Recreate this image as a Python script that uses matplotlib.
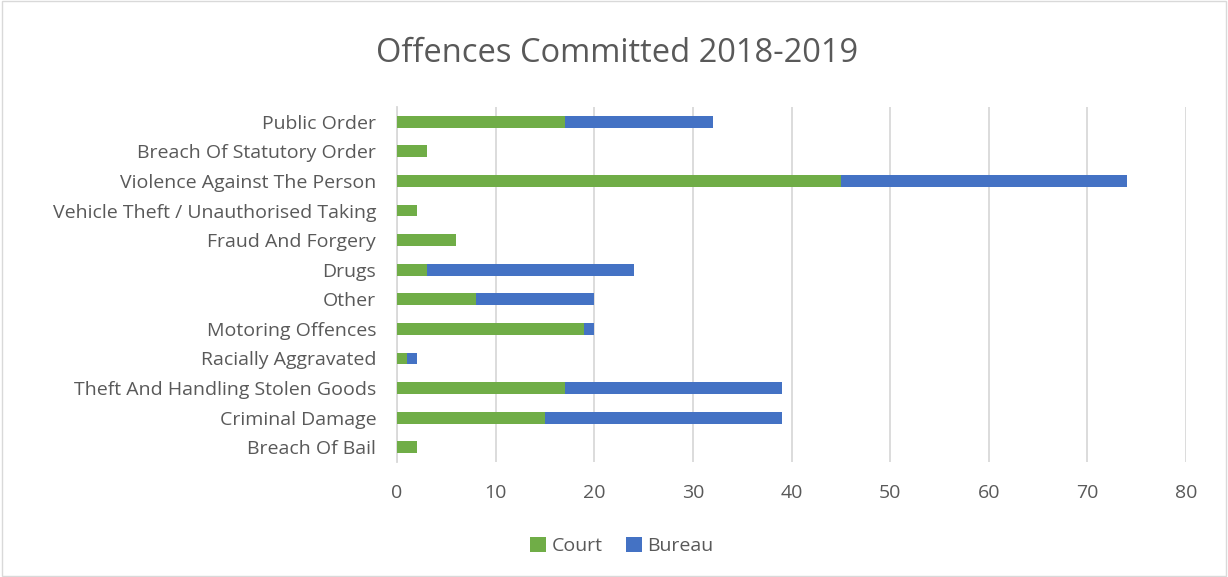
import numpy as np
import matplotlib.pyplot as plt

# offence categories, top to bottom as in the chart
categories = ["Public Order", "Breach Of Statutory Order", "Violence Against The Person",
              "Vehicle Theft / Unauthorised Taking", "Fraud And Forgery", "Drugs", "Other",
              "Motoring Offences", "Racially Aggravated", "Theft And Handling Stolen Goods",
              "Criminal Damage", "Breach Of Bail"]
court = [17, 3, 45, 2, 6, 3, 8, 19, 1, 17, 15, 2]
bureau = [15, 0, 29, 0, 0, 21, 12, 1, 1, 22, 24, 0]
xticks = [0, 10, 20, 30, 40, 50, 60, 70, 80]

GREEN = "#70AD47"
BLUE = "#4472C4"
GRID = "#D9D9D9"
TEXT = "#595959"

plt.rcParams['font.family'] = ['Open Sans', 'DejaVu Sans']

fig = plt.figure(figsize=(12.28, 5.77), dpi=100)
ax = fig.add_axes([397/1228, 1 - 462/577, (1186 - 397)/1228, (462 - 107)/577])

y = np.arange(len(categories))
ax.barh(y, court, height=0.4, color=GREEN, label="Court", zorder=3)
ax.barh(y, bureau, left=court, height=0.4, color=BLUE, label="Bureau", zorder=3)

ax.set_ylim(len(categories) - 0.5, -0.5)
ax.set_xlim(0, 80)
ax.set_xticks(xticks)
ax.set_yticks(y)
ax.set_yticklabels(categories)
ax.tick_params(axis='both', length=0, colors=TEXT, labelsize=14)
ax.tick_params(axis='x', pad=16)
ax.tick_params(axis='y', pad=15)
ax.grid(axis='x', color=GRID, linewidth=1.3, zorder=0)
for s in ['top', 'right', 'bottom']:
    ax.spines[s].set_visible(False)
ax.spines['left'].set_color(GRID)
ax.spines['left'].set_linewidth(1.3)

fig.text(617/1228, 1 - 53/577, "Offences Committed 2018-2019", ha='center', va='center',
         fontsize=23.5, color=TEXT)

fig.legend(loc='center', bbox_to_anchor=(622/1228, 1 - 546/577), ncol=2, frameon=False,
           fontsize=14, labelcolor=TEXT, handlelength=0.8, handleheight=0.8,
           handletextpad=0.3, columnspacing=1.2)

# light outer border
fig.patches.append(plt.Rectangle((0.002, 0.002), 0.996, 0.996, transform=fig.transFigure,
                                 fill=False, edgecolor=GRID, linewidth=1))

fig.savefig("out.png", dpi=100)
